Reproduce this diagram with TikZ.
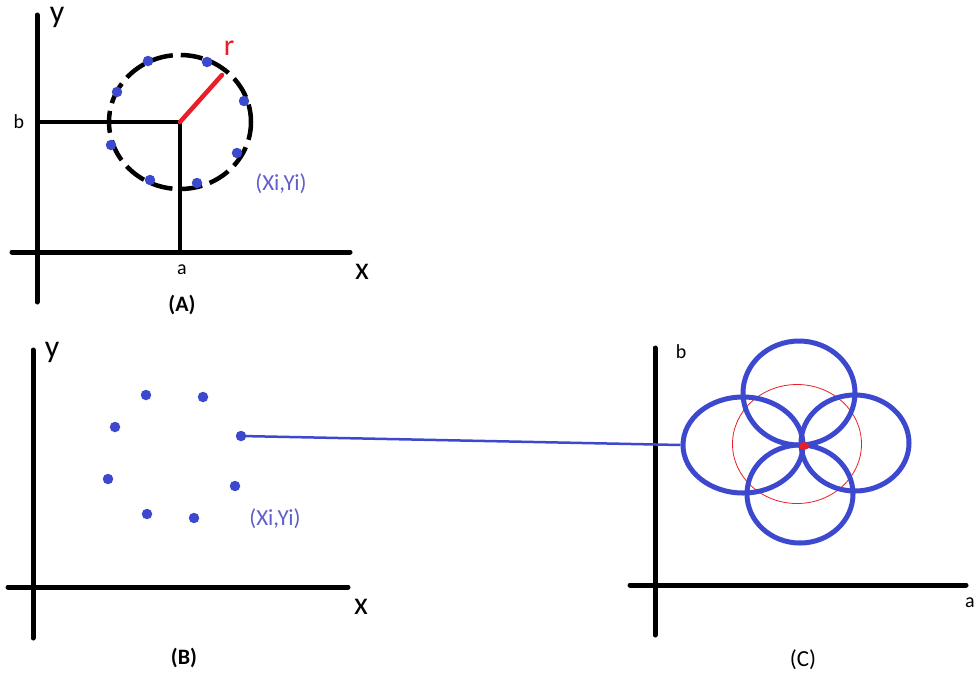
\documentclass[tikz,border=0pt]{standalone}
\usepackage{fontspec}
\setmainfont{Carlito}
\usetikzlibrary{shapes.geometric}
\definecolor{dotblue}{RGB}{60,72,205}
\definecolor{txtblue}{RGB}{95,95,205}
\definecolor{myred}{RGB}{232,30,40}
\tikzset{
  axis/.style={line width=5pt, line cap=round},
  guide/.style={line width=4pt},
  dot/.style={circle, fill=dotblue, inner sep=0pt, minimum size=10.5pt},
  lbl/.style={inner sep=0pt, font=\fontsize{32}{32}\selectfont},
  small/.style={inner sep=0pt, font=\fontsize{20}{20}\selectfont},
  captionlbl/.style={inner sep=0pt, font=\fontsize{22}{22}\selectfont\bfseries},
  ptlbl/.style={inner sep=0pt, text=txtblue, font=\fontsize{23}{23}\selectfont},
  bluering/.style={ellipse, draw=dotblue, line width=5pt, inner sep=0pt},
}
\begin{document}
\begin{tikzpicture}[x=1pt,y=-1pt]
\useasboundingbox (0,0) rectangle (977,673);
% ---------- Panel A ----------
\coordinate (Ay0) at (37,15); \coordinate (Ay1) at (37,302);
\coordinate (Ax0) at (12,252); \coordinate (Ax1) at (350,252);
\draw[axis] (Ay0) -- (Ay1);
\draw[axis] (Ax0) -- (Ax1);
\coordinate (Ac) at (180,122);
\coordinate (Ab) at (37,122);
\coordinate (Aa) at (180,252);
\draw[guide] (Ab) -- (Ac) -- (Aa);
\draw[line width=4.5pt, dash pattern=on 22pt off 8pt, dash phase=4pt] (Ac) ellipse [x radius=71, y radius=67];
\coordinate (Ar) at (222,75);
\draw[myred, line width=4.5pt, line cap=round] (Ac) -- (Ar);
\node[inner sep=0pt, text=myred, font=\fontsize{30}{30}\selectfont] (rlab) at (229,48) {r};
\node[lbl] (Aylab) at (57,17) {y};
\node[lbl] (Axlab) at (362,272) {x};
\node[small] (blab) at (19,122) {b};
\node[small] (alab) at (182,270) {a};
\node[captionlbl] (Acap) at (182,305) {(A)};
\node[ptlbl] (Apt) at (281,184) {(Xi,Yi)};
\foreach \n/\x/\y in {1/148/61, 2/207/62, 3/117/92, 4/244/101, 5/111/145, 6/237/153, 7/150/180, 8/197/183}
  \node[dot] (a\n) at (\x,\y) {};
% ---------- Panel B ----------
\coordinate (By0) at (33,350); \coordinate (By1) at (33,638);
\coordinate (Bx0) at (8,587); \coordinate (Bx1) at (348,587);
\draw[axis] (By0) -- (By1);
\draw[axis] (Bx0) -- (Bx1);
\node[lbl] (Bylab) at (52,352) {y};
\node[lbl] (Bxlab) at (361,607) {x};
\node[captionlbl] (Bcap) at (184,658) {(B)};
\node[ptlbl] (Bpt) at (275,519) {(Xi,Yi)};
\foreach \n/\x/\y in {1/146/395, 2/203/397, 3/115/427, 4/241/436, 5/108/479, 6/235/486, 7/147/514, 8/194/518}
  \node[dot] (b\n) at (\x,\y) {};
% ---------- Panel C ----------
\coordinate (Cy0) at (655,348); \coordinate (Cy1) at (655,635);
\coordinate (Cx0) at (630,585); \coordinate (Cx1) at (966,585);
\draw[axis] (Cy0) -- (Cy1);
\draw[axis] (Cx0) -- (Cx1);
\node[small] (Cblab) at (681,352) {b};
\node[small, anchor=east] (Calab) at (975,603) {a};
\node[inner sep=0pt, font=\fontsize{23}{23}\selectfont] (Ccap) at (803,660) {(C)};
\node[ellipse, draw=myred, line width=0.8pt, minimum width=129pt, minimum height=119pt, inner sep=0pt] (cred) at (797,444) {};
\node[bluering, minimum width=112pt, minimum height=104pt] (ctop) at (799,393) {};
\node[bluering, minimum width=106pt, minimum height=98pt] (cbot) at (800,494) {};
\node[bluering, minimum width=120pt, minimum height=96pt] (cleft) at (743,445) {};
\node[bluering, minimum width=108pt, minimum height=96pt] (cright) at (855,443) {};
\node[ellipse, fill=myred, inner sep=0pt, minimum width=10pt, minimum height=8pt] (ccen) at (804,446) {};
% ---------- connector ----------
\draw[dotblue, line width=2.5pt] (b4.center) -- (cleft.west);
\end{tikzpicture}
\end{document}
